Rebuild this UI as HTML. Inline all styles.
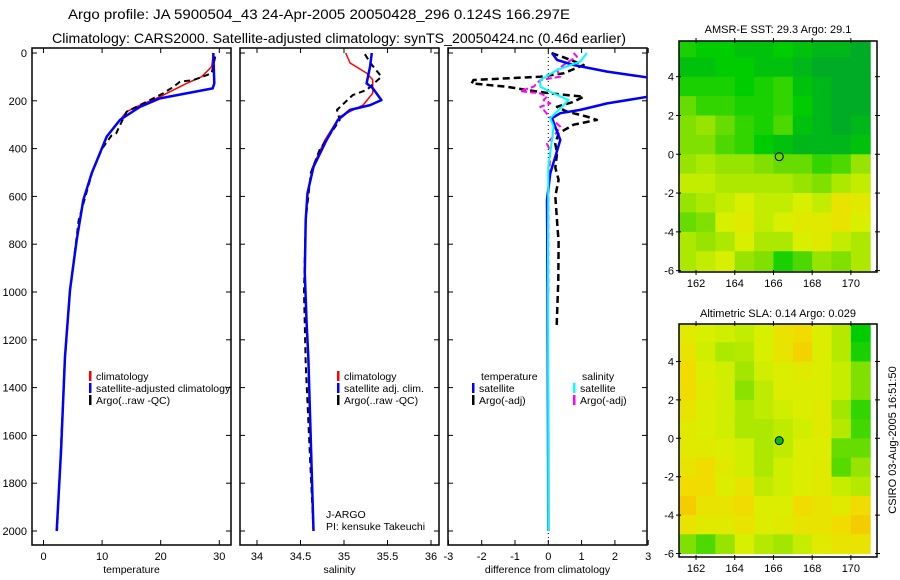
<!DOCTYPE html>
<html><head><meta charset="utf-8"><style>
body{margin:0;background:#fff}
svg{display:block;font-family:"Liberation Sans",sans-serif}
</style></head><body>
<svg id="fig" width="900" height="580" viewBox="0 0 900 580" xmlns="http://www.w3.org/2000/svg">
<defs>
<clipPath id="c1"><rect x="32" y="48" width="199" height="497"/></clipPath>
<clipPath id="c2"><rect x="240" y="48" width="199" height="497"/></clipPath>
<clipPath id="c3"><rect x="448" y="48" width="199" height="497"/></clipPath>
<clipPath id="cm1"><rect x="679" y="41" width="198" height="231"/></clipPath>
<clipPath id="cm2"><rect x="679" y="324" width="198" height="233"/></clipPath>
</defs>
<text x="68" y="19" font-size="14" textLength="502" lengthAdjust="spacingAndGlyphs">Argo profile: JA 5900504_43 24-Apr-2005 20050428_296 0.124S 166.297E</text>
<text x="52" y="43" font-size="14" textLength="574" lengthAdjust="spacingAndGlyphs">Climatology: CARS2000. Satellite-adjusted climatology: synTS_20050424.nc (0.46d earlier)</text>
<g id="plots"></g>
<text x="778" y="33" font-size="11" text-anchor="middle">AMSR-E SST: 29.3 Argo: 29.1</text>
<text x="778" y="317" font-size="11" text-anchor="middle">Altimetric SLA: 0.14 Argo: 0.029</text>
<text x="0" y="0" font-size="11" text-anchor="middle" transform="translate(896,440) rotate(-90)">CSIRO 03-Aug-2005 16:51:50</text>
<text x="326" y="518" font-size="10.5">J-ARGO</text>
<text x="326" y="530" font-size="10.5">PI: kensuke Takeuchi</text>
</svg>
<script>
// ---- data ----
const depthTicks=[0,200,400,600,800,1000,1200,1400,1600,1800,2000];
const tempTicks=[0,10,20,30];
const salTicks=[34,34.5,35,35.5,36];
const diffTicks=[-3,-2,-1,0,1,2,3];
const tClimD=[0,57,99,127,183,218,245,280,350,503,615,782,992,1270,1660,2000];
const tClimV=[29.0,28.7,27.0,24.4,19.9,16.5,14.2,13.05,10.78,8.23,6.79,5.67,4.52,3.67,3.0,2.25];
const tSatD=[0,127,148,190,225,280,350,503,615,782,992,1270,1660,2000];
const tSatV=[28.98,29.15,28.87,19.88,16.47,13.05,10.78,8.23,6.79,5.67,4.52,3.67,3.0,2.25];
const tArgoD=[15,85,113,120,141,169,204,245,290,315,336,345,400,500,700,1000,1300,1700,2000];
const tArgoV=[29.3,28.7,25.6,23.3,22.2,20.4,17.6,14.2,13.3,12.8,12.4,11.6,10.0,8.3,6.0,4.5,3.6,2.9,2.3];
const sClimD=[0,42,84,112,168,218,266,364,476,586,699,921,1130,1270,2000];
const sClimV=[35.02,35.07,35.26,35.33,35.33,35.22,34.95,34.78,34.64,34.58,34.56,34.55,34.57,34.59,34.65];
const sSatD=[0,56,127,147,197,218,238,280,364,476,586,699,921,1130,1270,2000];
const sSatV=[35.32,35.30,35.26,35.33,35.43,35.30,35.07,34.93,34.80,34.65,34.58,34.56,34.55,34.57,34.59,34.65];
const sArgoD=[5,40,99,155,176,238,280,308,405,500,700,1000,1300,1700,2000];
const sArgoV=[35.24,35.30,35.43,35.26,35.10,34.92,34.95,34.90,34.72,34.62,34.56,34.54,34.56,34.61,34.65];
const dTSatD=[0,29,50,78,113,140,160,183,211,238,252,273,364,434,503,615,1000,2000];
const dTSatV=[0.11,0.26,0.76,1.77,3.5,4.5,4.0,3.0,1.77,0.96,0.36,0.11,0.36,0.21,0.06,-0.04,-0.02,0.0];
const dTArgoD=[0,20,50,85,99,113,127,141,155,169,183,204,225,245,266,280,300,336,380,420,480,530,600,700,790,950,1150];
const dTArgoV=[0.1,0.5,1.06,0.46,-0.24,-2.25,-2.3,-1.26,-0.64,0.06,1.06,0.76,0.26,0.56,1.16,1.46,0.76,0.31,0.21,0.26,0.21,0.31,0.21,0.26,0.31,0.3,0.25];
const dSSatD=[0,36,71,113,141,169,197,232,273,308,364,475,800,2000];
const dSSatV=[1.16,0.96,0.26,-0.24,-0.24,0.16,0.61,0.36,0.06,0.16,0.11,0.0,-0.01,0.0];
const dSArgoD=[0,15,40,71,99,113,141,160,169,183,197,211,225,238,270,308,330,380,410,600,1000];
const dSArgoV=[0.76,0.86,0.56,0.26,0.36,-0.24,-0.44,-0.84,-0.24,-0.04,-0.14,0.06,-0.24,-0.14,0.06,0.36,0.26,-0.04,0.06,0.0,0.0];
const mapLons=[161,162,163,164,165,166,167,168,169,170];
const mapLats=[5,4,3,2,1,0,-1,-2,-3,-4,-5,-6];
const sstGrid=[
[0.3,0.25,0.25,0.2,0.2,0.25,0.2,0.15,0.15,0.1],
[0.2,0.2,0.25,0.25,0.2,0.2,0.15,0.1,0.1,0.1],
[0.3,0.3,0.3,0.25,0.3,0.35,0.2,0.15,0.1,0.1],
[0.45,0.35,0.35,0.3,0.3,0.35,0.25,0.15,0.1,0.1],
[0.5,0.55,0.45,0.35,0.3,0.4,0.2,0.15,0.1,0.15],
[0.5,0.5,0.4,0.35,0.25,0.2,0.15,0.15,0.15,0.2],
[0.55,0.6,0.55,0.55,0.5,0.45,0.45,0.35,0.4,0.55],
[0.65,0.65,0.6,0.6,0.6,0.6,0.55,0.5,0.6,0.65],
[0.55,0.6,0.65,0.7,0.65,0.65,0.7,0.65,0.8,0.75],
[0.45,0.5,0.7,0.75,0.65,0.7,0.75,0.75,0.8,0.7],
[0.6,0.55,0.6,0.7,0.6,0.6,0.7,0.75,0.65,0.6],
[0.6,0.65,0.7,0.55,0.5,0.3,0.4,0.55,0.5,0.6]];
const slaGrid=[
[0.75,0.7,0.68,0.65,0.7,0.8,0.85,0.72,0.62,0.25],
[0.8,0.68,0.6,0.62,0.7,0.8,0.88,0.72,0.62,0.3],
[0.85,0.72,0.68,0.58,0.68,0.72,0.75,0.72,0.66,0.5],
[0.85,0.75,0.68,0.52,0.64,0.72,0.72,0.72,0.66,0.5],
[0.8,0.72,0.68,0.6,0.64,0.68,0.72,0.75,0.58,0.35],
[0.75,0.72,0.68,0.6,0.6,0.64,0.68,0.75,0.62,0.38],
[0.75,0.75,0.72,0.68,0.6,0.64,0.72,0.72,0.45,0.45],
[0.8,0.85,0.75,0.68,0.6,0.68,0.72,0.75,0.42,0.55],
[0.85,0.85,0.72,0.8,0.64,0.68,0.72,0.75,0.66,0.62],
[0.9,0.8,0.8,0.85,0.72,0.72,0.85,0.8,0.75,0.85],
[0.8,0.75,0.75,0.8,0.72,0.75,0.8,0.8,0.85,0.9],
[0.5,0.4,0.55,0.7,0.62,0.58,0.66,0.75,0.8,0.8]];
const mapXTicks=[162,164,166,168,170];
const mapYTicks=[4,2,0,-2,-4,-6];
const argoLon=166.297, argoLat=-0.124;

// ---- helpers ----
const NS="http://www.w3.org/2000/svg";
const root=document.getElementById('plots');
function mk(tag,attrs,parent){const e=document.createElementNS(NS,tag);for(const k in attrs)e.setAttribute(k,attrs[k]);(parent||root).appendChild(e);return e;}
const yD=d=>53+d*0.239;
const xT=v=>43.5+v*5.86;
const xS=v=>257+(v-34)*87;
const xDf=v=>548.3+v*33.3;
const panels=[{x:32,xs:xT,ticks:tempTicks,lab:'temperature',clip:'c1',name:'temperature'},
{x:240,xs:xS,ticks:salTicks,lab:'salinity',clip:'c2',name:'salinity'},
{x:448,xs:xDf,ticks:diffTicks,lab:'difference from climatology',clip:'c3',name:'difference'}];
panels.forEach((p,i)=>{
  const g=mk('g',{});
  
  
  mk('rect',{x:p.x,y:48,width:199,height:497,fill:'none',stroke:'#000','stroke-width':1.5},g);
  p.ticks.forEach(t=>{const x=p.xs(t);
    mk('line',{x1:x,y1:48,x2:x,y2:53,stroke:'#000'},g);
    mk('line',{x1:x,y1:545,x2:x,y2:540,stroke:'#000'},g);
    const tx=mk('text',{x:x,y:560,'font-size':11,'text-anchor':'middle'},g);tx.textContent=String(t);
    
    
  });
  depthTicks.forEach(d=>{const y=yD(d);
    mk('line',{x1:p.x,y1:y,x2:p.x+5,y2:y,stroke:'#000'},g);
    mk('line',{x1:p.x+199,y1:y,x2:p.x+194,y2:y,stroke:'#000'},g);
    if(i===0){const tx=mk('text',{x:27,y:y+4,'font-size':11,'text-anchor':'end'},g);tx.textContent=String(d);
      
      }
  });
  const xl=mk('text',{x:p.x+99.5,y:573,'font-size':10.5,'text-anchor':'middle'},g);xl.textContent=p.lab;
  
  
});
const zl=mk('line',{x1:xDf(0),y1:53,x2:xDf(0),y2:545,stroke:'#000','stroke-dasharray':'1,3'});



function line(D,V,xs,color,w,dash,clip,name){
  const pts=D.map((d,k)=>xs(V[k]).toFixed(1)+','+yD(d).toFixed(1)).join(' ');
  const a={points:pts,fill:'none',stroke:color,'stroke-width':w,'clip-path':'url(#'+clip+')','stroke-linejoin':'round'};
  if(dash)a['stroke-dasharray']=dash;
  const e=mk('polyline',a);
  
  
}
line(tClimD,tClimV,xT,'#f00',1.5,null,'c1','temp-climatology-line');
line(tArgoD,tArgoV,xT,'#000',2,'6,4','c1','temp-argo-line');
line(tSatD,tSatV,xT,'#00f',2.5,null,'c1','temp-satellite-line');
line(sClimD,sClimV,xS,'#f00',1.5,null,'c2','sal-climatology-line');
line(sArgoD,sArgoV,xS,'#000',2,'6,4','c2','sal-argo-line');
line(sSatD,sSatV,xS,'#00f',2.5,null,'c2','sal-satellite-line');
line(dTArgoD,dTArgoV,xDf,'#000',2.5,'7,4','c3','diff-temp-argo-line');
line(dSArgoD,dSArgoV,xDf,'#f0f',2,'6,3','c3','diff-sal-argo-line');
line(dTSatD,dTSatV,xDf,'#00f',2.5,null,'c3','diff-temp-satellite-line');
line(dSSatD,dSSatV,xDf,'cyan',2,null,'c3','diff-sal-satellite-line');

function legend(x,y,color,txt,name){
  if(color){const b=mk('rect',{x:x,y:y-9,width:2.5,height:10,fill:color});
    
    }
  const t=mk('text',{x:x+7,y:y,'font-size':10.5});t.textContent=txt;
  
  
}
legend(89,380,'#f00','climatology','legend-climatology');
legend(89,392,'#00f','satellite-adjusted climatology','legend-satellite');
legend(89,404,'#000','Argo(..raw -QC)','legend-argo');
legend(337,380,'#f00','climatology','legend2-climatology');
legend(337,392,'#00f','satellite adj. clim.','legend2-satellite');
legend(337,404,'#000','Argo(..raw -QC)','legend2-argo');
legend(474,380,null,'temperature','legend3-temperature');
legend(472,392,'#00f','satellite','legend3-temp-satellite');
legend(472,404,'#000','Argo(-adj)','legend3-temp-argo');
legend(575,380,null,'salinity','legend3-salinity');
legend(573,392,'cyan','satellite','legend3-sal-satellite');
legend(573,404,'#f0f','Argo(-adj)','legend3-sal-argo');

// ---- maps ----
const stops=[[0,[0,150,64]],[0.25,[0,205,0]],[0.5,[128,224,0]],[0.7,[216,240,0]],[0.85,[240,220,0]],[1,[248,176,0]]];
function cmap(v){for(let i=1;i<stops.length;i++){if(v<=stops[i][0]){const a=stops[i-1],b=stops[i],f=(v-a[0])/(b[0]-a[0]);
  return 'rgb('+a[1].map((c,k)=>Math.round(c+(b[1][k]-c)*f)).join(',')+')';}}return 'rgb(248,176,0)';}
function map(top,bot,latTop,latBot,grid,clip,name,filled){
  const xL=lon=>679+(lon-161.12)*(198/(171.35-161.12));
  const yL=lat=>top+(latTop-lat)*((bot-top)/(latTop-latBot));
  const g=mk('g',{'clip-path':'url(#'+clip+')'});
  
  
  mapLats.forEach((lat,r)=>mapLons.forEach((lon,c)=>{
    const x0=xL(lon),x1=xL(lon+1),y0=yL(lat+1),y1=yL(lat);
    const cell=mk('rect',{x:x0,y:y0,width:x1-x0+0.5,height:y1-y0+0.5,fill:cmap(grid[r][c])},g);
    
    
  }));
  const fr=mk('rect',{x:679,y:top,width:198,height:bot-top,fill:'none',stroke:'#000','stroke-width':1.5});
  
  
  mapXTicks.forEach(t=>{const x=xL(t);mk('line',{x1:x,y1:top-3,x2:x,y2:top+2,stroke:'#000'});mk('line',{x1:x,y1:bot-2,x2:x,y2:bot+3,stroke:'#000'});
    const tx=mk('text',{x:x,y:bot+15,'font-size':11,'text-anchor':'middle'});tx.textContent=String(t);
    
    });
  mapYTicks.forEach(t=>{const y=yL(t);mk('line',{x1:676,y1:y,x2:681,y2:y,stroke:'#000'});mk('line',{x1:875,y1:y,x2:880,y2:y,stroke:'#000'});
    const tx=mk('text',{x:674,y:y+4,'font-size':11,'text-anchor':'end'});tx.textContent=String(t);
    
    });
  const m=mk('circle',{cx:xL(argoLon),cy:yL(argoLat),r:4,fill:filled?'#00c000':'none',stroke:'#000','stroke-width':1});
  
  
}
map(41,272,5.84,-6.07,sstGrid,'cm1','sst-map',false);
map(324,557,5.95,-6.18,slaGrid,'cm2','sla-map',true);
</script>
</body></html>
